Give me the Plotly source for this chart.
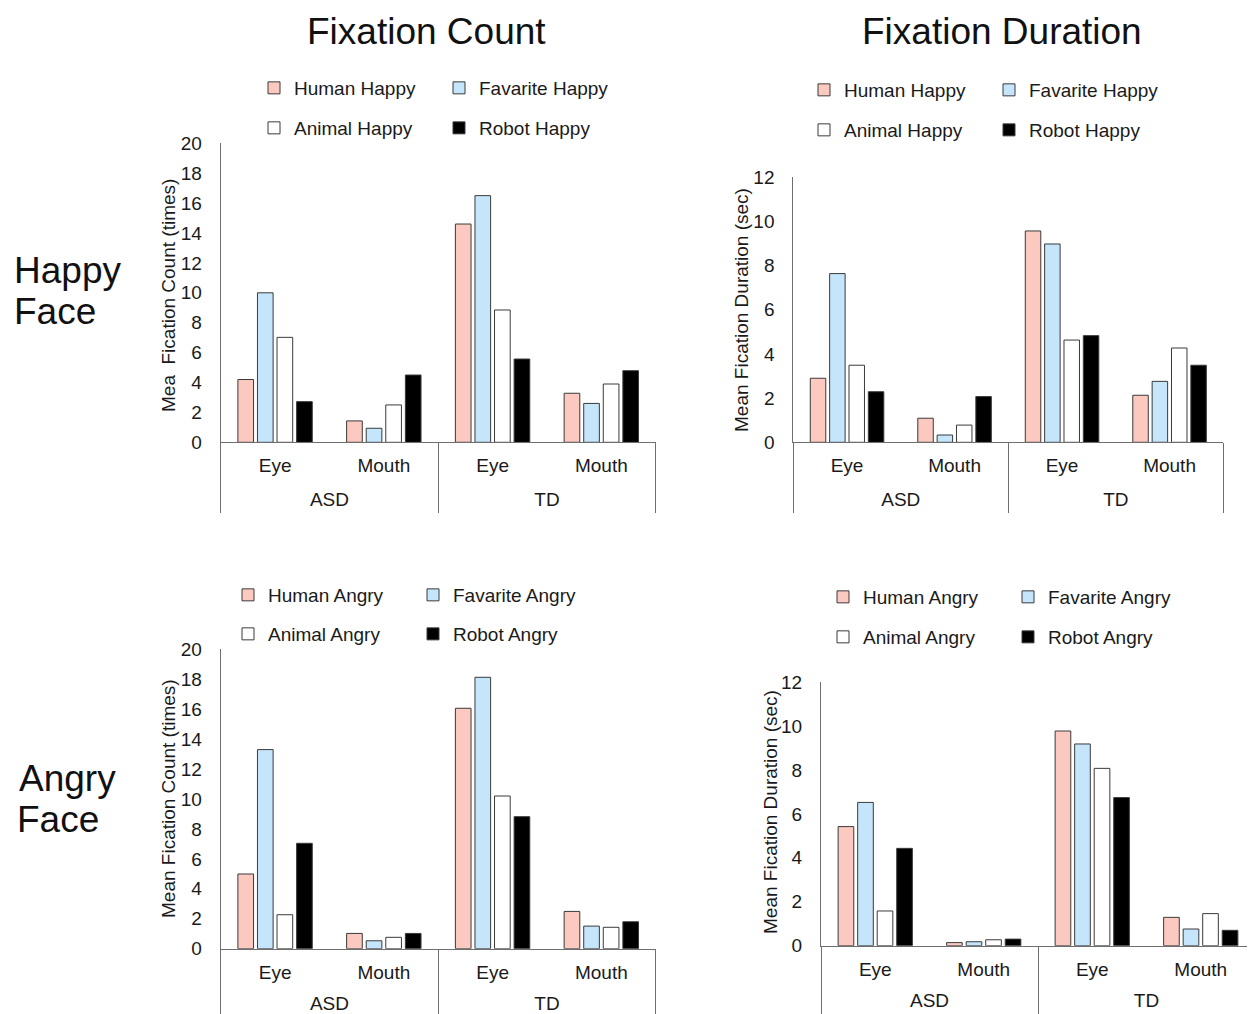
import plotly.graph_objects as go

# page body adds an 8px margin, so the figure is drawn 8px smaller and shifted
OFF = 8
W, H = 1255 - OFF, 1014 - OFF

groups = ["ASD", "ASD", "TD", "TD"]
regions = ["Eye", "Mouth", "Eye", "Mouth"]
group_labels = ["ASD", "TD"]

stimuli = ["Human", "Favarite", "Animal", "Robot"]
colors = ["#FCC9C0", "#C5E5FB", "#FFFFFF", "#000000"]

# Fixation count, happy face (ASD Eye, ASD Mouth, TD Eye, TD Mouth)
count_happy_human = [4.2, 1.43, 14.6, 3.28]
count_happy_fav = [10.0, 0.94, 16.5, 2.6]
count_happy_animal = [7.02, 2.5, 8.85, 3.9]
count_happy_robot = [2.72, 4.5, 5.57, 4.79]

# Fixation duration, happy face
dur_happy_human = [2.9, 1.09, 9.57, 2.13]
dur_happy_fav = [7.64, 0.33, 8.98, 2.76]
dur_happy_animal = [3.49, 0.78, 4.63, 4.27]
dur_happy_robot = [2.29, 2.07, 4.83, 3.49]

# Fixation count, angry face
count_angry_human = [4.99, 1.02, 16.06, 2.49]
count_angry_fav = [13.3, 0.53, 18.13, 1.51]
count_angry_animal = [2.27, 0.76, 10.2, 1.43]
count_angry_robot = [7.04, 1.02, 8.82, 1.8]

# Fixation duration, angry face
dur_angry_human = [5.42, 0.14, 9.77, 1.29]
dur_angry_fav = [6.52, 0.18, 9.18, 0.76]
dur_angry_animal = [1.58, 0.27, 8.07, 1.46]
dur_angry_robot = [4.43, 0.3, 6.74, 0.7]

y_titles = ["Mea\u00a0 Fication Count (times)", "Mean Fication Duration (sec)",
            "Mean Fication Count (times)", "Mean Fication Duration (sec)"]
col_titles = ["Fixation Count", "Fixation Duration"]
row_titles = [["Happy", "Face"], ["Angry", "Face"]]
emotions = ["Happy", "Happy", "Angry", "Angry"]
y_max = [20, 12, 20, 12]

panels = [
    [count_happy_human, count_happy_fav, count_happy_animal, count_happy_robot],
    [dur_happy_human, dur_happy_fav, dur_happy_animal, dur_happy_robot],
    [count_angry_human, count_angry_fav, count_angry_animal, count_angry_robot],
    [dur_angry_human, dur_angry_fav, dur_angry_animal, dur_angry_robot],
]

def fx(px):
    return min(1.0, (px - OFF) / W)

def fy(py):
    return 1 - (py - OFF) / H

# pixel boxes in the screenshot: (left, right, top, bottom)
boxes = [
    (220.7, 655.7, 143.3, 442.3),
    (793.3, 1223.3, 177.3, 442.3),
    (220.7, 655.7, 649.3, 948.7),
    (821.0, 1255.0, 682.0, 945.7),
]
# legend anchors (symbol centre x of col 1, row1 y, row2 y)
leg_pos = [(280, 88, 128), (830, 90, 130), (254, 595, 634), (849, 597, 637)]
ytitle_pos = [(168, 296), (742, 310), (168, 799), (770, 812)]
outer_standoff = [44, 44, 41, 41]

FONT = "Liberation Sans, Arial, sans-serif"
TXT = "#1a1a1a"
AX = "#6e6e6e"

n_cat = len(regions)
cat_range = [-0.5, n_cat - 0.5]

fig = go.Figure()
layout = dict(
    width=W, height=H, margin=dict(l=0, r=0, t=0, b=0, autoexpand=False),
    paper_bgcolor="white", plot_bgcolor="white",
    barmode="group", bargap=0.28, bargroupgap=0.2,
    font=dict(family=FONT, size=19, color=TXT),
    annotations=[],
)

leg_idx = 0
for p in range(4):
    sfx = "" if p == 0 else str(p + 1)
    inner_id = str(p + 5)
    outer_id = str(p + 9)
    l, r, t, b = boxes[p]
    for s in range(4):
        li = leg_idx + (0 if s < 2 else 1)
        lname = "legend" if li == 0 else "legend%d" % (li + 1)
        fig.add_trace(go.Bar(
            x=[groups, regions], y=panels[p][s],
            name="%s %s" % (stimuli[s], emotions[p]),
            marker=dict(color=colors[s], line=dict(color="#3a3a3a", width=1)),
            xaxis="x" + sfx, yaxis="y" + sfx, legend=lname,
        ))
    # empty helper traces so the label-only overlay axes get drawn
    for ax_id in (inner_id, outer_id):
        fig.add_trace(go.Scatter(x=[None], y=[None], mode="markers", showlegend=False,
                                 hoverinfo="skip", xaxis="x" + ax_id, yaxis="y" + sfx))
    sx, r1, r2 = leg_pos[p]
    for k, ry in enumerate([r1, r2]):
        li = leg_idx + k
        lname = "legend" if li == 0 else "legend%d" % (li + 1)
        layout[lname] = dict(
            orientation="h", x=fx(sx - 26), y=fy(ry), xanchor="left", yanchor="middle",
            entrywidth=140, entrywidthmode="pixels", bgcolor="rgba(0,0,0,0)",
            font=dict(family=FONT, size=19, color=TXT), itemclick=False,
        )
    leg_idx += 2
    # main (data) axis: multicategory, labels drawn by overlay axes
    layout["xaxis" + sfx] = dict(
        domain=[fx(l), fx(r)], anchor="y" + sfx, type="multicategory",
        showline=True, linecolor=AX, linewidth=1, ticks="",
        showticklabels=False, showdividers=False, showgrid=False,
        range=cat_range, fixedrange=True,
    )
    # overlay axis: inner category labels
    layout["xaxis" + inner_id] = dict(
        overlaying="x" + sfx, anchor="y" + sfx, side="bottom", type="linear",
        range=cat_range, tickmode="array", tickvals=list(range(n_cat)), ticktext=regions,
        ticks="", showline=False, showgrid=False, zeroline=False,
        tickfont=dict(family=FONT, size=19, color=TXT), ticklabelstandoff=10,
        fixedrange=True,
    )
    # overlay axis: outer group labels and dividers
    layout["xaxis" + outer_id] = dict(
        overlaying="x" + sfx, anchor="y" + sfx, side="bottom", type="linear",
        range=cat_range, tickmode="array", tickvals=[0.5, 2.5], ticktext=group_labels,
        ticks="", showline=False, showgrid=False, zeroline=False,
        tickfont=dict(family=FONT, size=19, color=TXT), ticklabelstandoff=outer_standoff[p],
        minor=dict(tickmode="array", tickvals=[-0.5, 1.5, 3.5], ticks="outside",
                   ticklen=70, tickcolor=AX, tickwidth=1, showgrid=False),
        fixedrange=True,
    )
    layout["yaxis" + sfx] = dict(
        domain=[fy(b), fy(t)], anchor="x" + sfx, range=[0, y_max[p]], dtick=2,
        showline=True, linecolor=AX, linewidth=1, ticks="", showgrid=False,
        zeroline=False, tickfont=dict(family=FONT, size=19, color=TXT),
        ticklabelstandoff=14, fixedrange=True,
    )
    tx, ty = ytitle_pos[p]
    layout["annotations"].append(dict(
        text=y_titles[p], x=fx(tx), y=fy(ty), xref="paper", yref="paper",
        textangle=-90, showarrow=False, xanchor="center", yanchor="middle",
        font=dict(family=FONT, size=19, color=TXT)))

for cx, txt in zip([426.5, 1002], col_titles):
    layout["annotations"].append(dict(
        text=txt, x=fx(cx), y=fy(32), xref="paper", yref="paper", showarrow=False,
        xanchor="center", yanchor="middle", font=dict(family=FONT, size=37, color="#111")))

row_pos = [[(12, 270), (12, 311)], [(17, 778), (15, 819)]]
for rr in range(2):
    for k in range(2):
        px_, py_ = row_pos[rr][k]
        layout["annotations"].append(dict(
            text=row_titles[rr][k], x=fx(px_), y=fy(py_), xref="paper", yref="paper",
            showarrow=False, xanchor="left", yanchor="middle",
            font=dict(family=FONT, size=37, color="#111")))

fig.update_layout(**layout)
fig.write_html("out.html")
